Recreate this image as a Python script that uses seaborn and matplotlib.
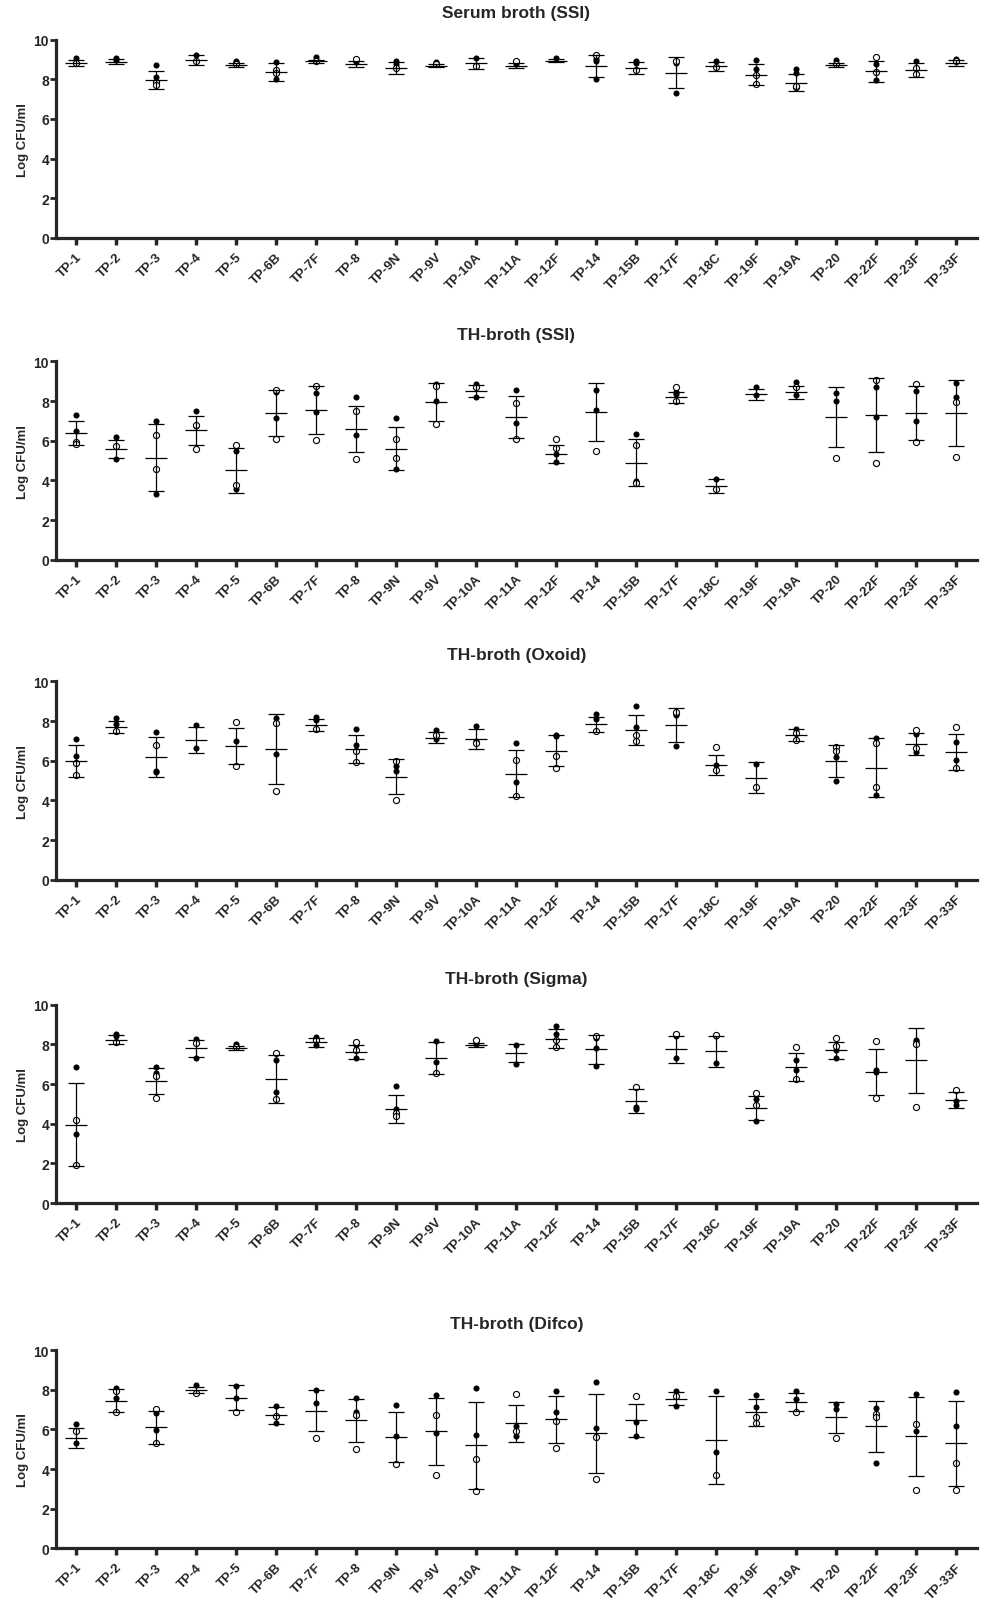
import numpy as np
import pandas as pd
import matplotlib
matplotlib.use('Agg')
import matplotlib.pyplot as plt
import seaborn as sns

# Serotypes on the x axis
serotypes = ['TP-1', 'TP-2', 'TP-3', 'TP-4', 'TP-5', 'TP-6B', 'TP-7F', 'TP-8', 'TP-9N', 'TP-9V',
             'TP-10A', 'TP-11A', 'TP-12F', 'TP-14', 'TP-15B', 'TP-17F', 'TP-18C', 'TP-19F',
             'TP-19A', 'TP-20', 'TP-22F', 'TP-23F', 'TP-33F']

# ---- Serum broth (SSI) ----
serum_filled = [[9.1], [9.1, 9.0], [8.7, 8.1], [9.25], [8.9, 8.85], [8.85, 8.0], [9.15], [8.85],
                [8.95, 8.75], [8.85], [9.1], [8.75], [9.1], [9.05, 8.9, 8.0], [8.95, 8.8],
                [8.95, 8.8, 7.3], [8.95], [9.0, 8.5], [8.5, 8.3], [9.0], [8.75, 7.95], [8.95], [9.05]]
serum_open = [[8.8], [], [7.85, 7.7], [8.9], [8.75], [8.45, 8.3], [8.95], [9.05], [8.55], [8.75],
              [8.65], [8.95], [], [9.25], [8.45], [8.9], [8.6], [8.2, 7.75], [7.6, 7.65], [8.75],
              [9.15, 8.35], [8.55, 8.25], [8.9]]
serum_mean = [8.81, 8.89, 7.95, 8.97, 8.71, 8.38, 8.9, 8.76, 8.57, 8.69, 8.8, 8.68, 8.93, 8.68,
              8.58, 8.33, 8.66, 8.23, 7.82, 8.72, 8.4, 8.48, 8.82]
serum_sd = [0.15, 0.12, 0.45, 0.25, 0.1, 0.45, 0.1, 0.15, 0.3, 0.08, 0.3, 0.12, 0.08, 0.55, 0.3,
            0.78, 0.22, 0.52, 0.43, 0.12, 0.53, 0.35, 0.15]

# ---- TH-broth (SSI) ----
ssi_filled = [[7.3, 6.5], [6.2, 5.1], [7.0, 3.3], [7.5, 6.75], [5.5, 3.55], [8.45, 7.15], [8.4, 7.45],
              [8.2, 6.3], [7.15, 4.6], [8.85, 8.0], [8.85, 8.2], [8.55, 6.9], [5.35, 4.95], [8.55, 7.55],
              [6.35, 3.95], [8.45, 8.35], [4.05], [8.7, 8.3], [8.95, 8.3], [8.4, 8.0], [8.7, 7.2],
              [8.5, 7.0], [8.9, 8.2]]
ssi_open = [[5.95, 5.85], [5.75], [6.3, 4.6], [6.8, 5.6], [5.8, 3.75], [8.55, 6.1], [8.75, 6.05],
            [7.5, 5.1], [6.1, 5.15], [8.75, 6.85], [8.7], [7.9, 6.1], [6.1, 5.65], [5.5], [5.8, 3.85],
            [8.7, 8.0], [3.55], [], [8.7], [5.15], [9.05, 4.9], [8.85, 5.95], [7.95, 5.2]]
ssi_mean = [6.4, 5.6, 5.15, 6.52, 4.5, 7.4, 7.55, 6.6, 5.6, 7.95, 8.5, 7.2, 5.35, 7.45, 4.9, 8.2,
            3.72, 8.35, 8.45, 7.2, 7.3, 7.4, 7.4]
ssi_sd = [0.6, 0.45, 1.7, 0.72, 1.15, 1.15, 1.2, 1.15, 1.1, 0.95, 0.3, 1.07, 0.45, 1.45, 1.2, 0.28,
          0.37, 0.28, 0.32, 1.5, 1.85, 1.35, 1.65]

# ---- TH-broth (Oxoid) ----
oxoid_filled = [[7.1, 6.25], [8.15, 7.85], [7.45, 5.5, 5.45], [7.8, 6.65], [7.0], [8.15, 6.35],
                [8.2, 8.05], [7.6, 6.8], [5.75, 5.5], [7.55, 7.1], [7.75, 7.0], [6.9, 4.95],
                [7.3, 7.25], [8.35, 8.1], [8.75, 7.7], [8.35, 8.3, 6.75], [5.8], [5.85], [7.6],
                [6.2, 5.0], [7.15, 4.25], [7.35, 6.45], [6.95, 6.05]]
oxoid_open = [[5.9, 5.3], [7.5], [6.8], [], [7.95, 5.75], [7.9, 4.45], [7.6], [6.5, 5.95], [6.0, 4.0],
              [7.3], [6.9], [6.05, 4.2], [6.25, 5.65], [7.5], [7.3, 7.0], [8.45], [6.7, 5.55], [4.7],
              [7.4, 7.05], [6.7, 6.5], [6.9, 4.7], [7.55, 6.65], [7.7, 5.65]]
oxoid_mean = [6.0, 7.7, 6.2, 7.05, 6.75, 6.6, 7.8, 6.6, 5.2, 7.15, 7.1, 5.35, 6.5, 7.85, 7.55, 7.8,
              5.8, 5.15, 7.3, 6.0, 5.65, 6.85, 6.45]
oxoid_sd = [0.8, 0.3, 1.0, 0.66, 0.9, 1.75, 0.3, 0.7, 0.9, 0.28, 0.52, 1.2, 0.78, 0.38, 0.77, 0.85,
            0.5, 0.8, 0.3, 0.8, 1.5, 0.55, 0.9]

# ---- TH-broth (Sigma) ----
sigma_filled = [[6.85, 3.5], [8.55, 8.45], [6.85, 6.55], [8.3, 7.3], [8.0], [7.2, 5.6], [8.4, 7.95],
                [7.95, 7.3], [5.9, 4.75], [8.15, 7.1], [8.15, 8.0], [7.95, 7.0], [8.95, 8.55],
                [8.35, 7.8, 6.9], [4.85, 4.75], [8.45, 7.3], [8.45, 7.05], [5.25, 4.15], [7.2, 6.7],
                [7.7, 7.3], [6.7, 6.6], [8.25, 8.15], [5.15, 4.95]]
sigma_open = [[4.2, 1.9], [8.1], [6.4, 5.3], [8.05], [7.85], [7.55, 5.25], [8.25], [8.1, 7.7],
              [4.55, 4.4], [6.55], [8.2], [], [8.25, 7.85], [8.45], [5.85], [8.55], [8.5],
              [5.55, 4.95], [7.85, 6.25], [8.35, 7.9], [8.15, 5.3], [8.0, 4.85], [5.7]]
sigma_mean = [3.95, 8.25, 6.15, 7.8, 7.8, 6.25, 8.1, 7.6, 4.75, 7.3, 7.97, 7.55, 8.3, 7.75, 5.15,
              7.75, 7.65, 4.8, 6.85, 7.7, 6.6, 7.2, 5.2]
sigma_sd = [2.1, 0.25, 0.65, 0.45, 0.1, 1.2, 0.25, 0.35, 0.7, 0.8, 0.08, 0.45, 0.48, 0.72, 0.6, 0.7,
            0.8, 0.62, 0.7, 0.43, 1.15, 1.65, 0.42]

# ---- TH-broth (Difco) ----
difco_filled = [[6.25, 5.3], [8.1, 7.6], [6.8, 5.95], [8.25], [8.2, 7.6], [7.2, 6.3], [8.0, 7.35],
                [7.6, 6.9], [7.25, 5.65], [7.75, 5.8], [8.1, 5.7], [6.15, 5.65], [7.95, 6.9],
                [8.4, 6.05], [6.35, 5.65], [7.95, 7.2], [7.95, 4.85], [7.75, 7.15], [7.95, 7.55],
                [7.3, 7.05], [7.1, 4.3], [7.8, 5.9], [7.9, 6.15]]
difco_open = [[5.9], [7.95, 6.85], [7.05, 5.3], [7.85], [6.9], [6.65], [5.55], [6.7, 5.0], [4.25],
              [6.7, 3.7], [4.5, 2.9], [7.8, 5.9], [6.4, 5.05], [5.6, 3.5], [7.7], [7.7], [3.7],
              [6.6, 6.3], [6.9], [5.55], [6.75, 6.6], [6.25, 2.95], [4.3, 2.95]]
difco_mean = [5.55, 7.45, 6.1, 8.0, 7.6, 6.7, 6.95, 6.45, 5.6, 5.9, 5.2, 6.3, 6.5, 5.8, 6.45, 7.55,
              5.45, 6.85, 7.4, 6.6, 6.15, 5.65, 5.3]
difco_sd = [0.5, 0.57, 0.82, 0.15, 0.62, 0.45, 1.05, 1.1, 1.25, 1.7, 2.2, 0.95, 1.2, 2.0, 0.85, 0.33,
            2.22, 0.7, 0.45, 0.78, 1.3, 2.0, 2.15]

titles = ['Serum broth (SSI)', 'TH-broth (SSI)', 'TH-broth (Oxoid)', 'TH-broth (Sigma)', 'TH-broth (Difco)']
panels = [(serum_filled, serum_open, serum_mean, serum_sd),
          (ssi_filled, ssi_open, ssi_mean, ssi_sd),
          (oxoid_filled, oxoid_open, oxoid_mean, oxoid_sd),
          (sigma_filled, sigma_open, sigma_mean, sigma_sd),
          (difco_filled, difco_open, difco_mean, difco_sd)]


def long_table(filled, hollow):
    rows = []
    for cat, f, o in zip(serotypes, filled, hollow):
        rows += [(cat, v, 'filled') for v in f]
        rows += [(cat, v, 'open') for v in o]
    return pd.DataFrame(rows, columns=['serotype', 'cfu', 'marker'])


sns.set_style('ticks')
plt.rcParams['font.family'] = ['Liberation Sans', 'DejaVu Sans']

fig = plt.figure(figsize=(9.88, 16.08), dpi=100)

# axes bottoms (figure fraction)
bottoms = [0.8514, 0.6513, 0.4523, 0.2512, 0.0365]
x = np.arange(len(serotypes))

for title, bottom, (filled, hollow, mean, sd) in zip(titles, bottoms, panels):
    ax = fig.add_axes([0.0567, bottom, 0.932, 0.1233])
    df = long_table(filled, hollow)

    sns.stripplot(data=df[df['marker'] == 'filled'], x='serotype', y='cfu', order=serotypes,
                  jitter=False, color='black', size=4.4, linewidth=0, ax=ax, zorder=2)
    sns.stripplot(data=df[df['marker'] == 'open'], x='serotype', y='cfu', order=serotypes,
                  jitter=False, color='white', edgecolor='black', size=4.4, linewidth=0.8,
                  ax=ax, zorder=2)
    # mean +/- SD
    ax.errorbar(x, mean, yerr=sd, fmt='_', color='black', ms=16, mew=0.9,
                elinewidth=0.9, capsize=6, capthick=0.9, zorder=3)

    ax.set_xlim(-0.5, 22.53)
    ax.set_ylim(0, 10)
    ax.set_yticks([0, 2, 4, 6, 8, 10])
    ax.set_xticks(x)
    ax.set_xticklabels(serotypes)
    ax.set_xlabel('')
    ax.set_ylabel('Log CFU/ml', fontweight='bold', fontsize=9.5, labelpad=3)
    ax.set_title(title, fontweight='bold', fontsize=12.5, pad=16)

    sns.despine(ax=ax)
    ax.spines['left'].set_linewidth(2.3)
    ax.spines['bottom'].set_linewidth(2.3)
    ax.tick_params(axis='y', direction='out', length=4, width=2, labelsize=10, pad=1)
    ax.tick_params(axis='x', direction='out', length=5, width=2.5, labelsize=9.5, pad=4)
    plt.setp(ax.get_xticklabels(), rotation=45, ha='right', rotation_mode='anchor', fontweight='bold')
    plt.setp(ax.get_yticklabels(), fontweight='bold')

fig.savefig('out.png', dpi=100)
